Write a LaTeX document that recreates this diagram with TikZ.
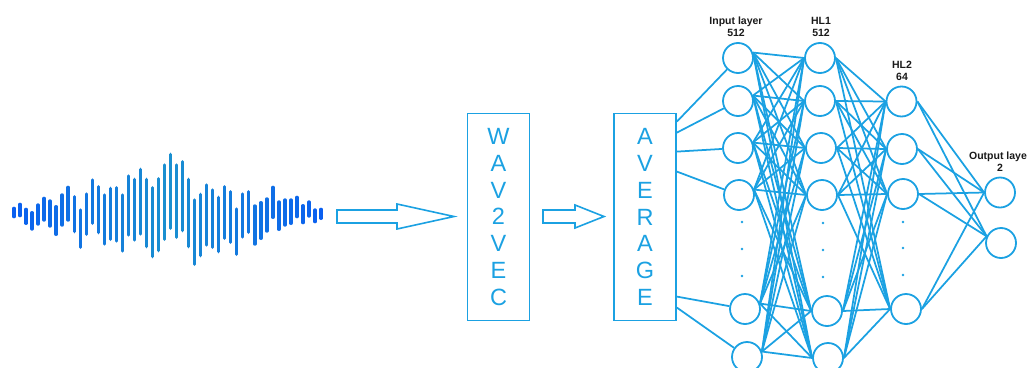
\documentclass[tikz,border=0pt]{standalone}
\usepackage{fontspec}
\setmainfont{Liberation Sans}
\usetikzlibrary{calc}
\definecolor{netblue}{HTML}{1BA1E2}
\definecolor{waveedge}{HTML}{0A5FF0}
\definecolor{wavemid}{HTML}{1A8FD0}
\definecolor{labelgray}{HTML}{1A1A1A}

\begin{document}
\begin{tikzpicture}[x=1pt,y=-1pt,
  neuron/.style={circle,draw=netblue,line width=1.8pt,minimum size=30pt,inner sep=0pt},
  link/.style={draw=netblue,line width=1.75pt},
  stage/.style={draw=netblue,line width=1.8pt,minimum width=62pt,minimum height=207pt,
    inner sep=0pt,align=center,text=netblue,font=\fontsize{23.5}{26.8}\selectfont},
  layerlabel/.style={align=center,font=\bfseries\fontsize{10.5}{12}\selectfont,text=labelgray},
  hollowarrow/.style={draw=netblue,line width=1.6pt,line join=miter,fill=white},
  ndot/.style={circle,fill=netblue,inner sep=0pt,minimum size=2.6pt}]
\useasboundingbox (0,0) rectangle (1027,367);

% audio waveform: index / top / bottom of each bar
\foreach \i/\yt/\yb in {
  1/206.7/218.3, 2/202.7/217.3, 3/207.7/225, 4/211/230.7, 5/203.3/225.7,
  6/196.7/221.7, 7/199.3/227.7, 8/205/236, 9/193.3/226.7, 10/185.7/221.7,
  11/195/233.3, 12/208.3/249, 13/192.3/236, 14/178.3/225, 15/185/234.3,
  16/193.3/245.7, 17/186.7/241, 18/186/242.7, 19/193.3/252.7, 20/174.3/236.7,
  21/177.7/241.7, 22/167.7/235.7, 23/177.7/248.3, 24/186/258.3, 25/177/252.3,
  26/163.3/241, 27/152.7/230, 28/163.3/239, 29/160/232.3, 30/177.7/248.3,
  31/198.3/266, 32/192.7/257.3, 33/183.3/246.7, 34/188.3/249, 35/195.7/253.3,
  36/185/240, 37/190/244, 38/207.3/256, 39/192.3/238.7, 40/190/234,
  41/204.3/245.7, 42/201/240, 43/197.3/232.7, 44/185.7/219, 45/200.3/231,
  46/198.3/226.7, 47/198.3/225, 48/195.7/218.3, 49/204/224.3, 50/200.3/217.7,
  51/208.3/223.3, 52/207.7/220} {
  \pgfmathsetmacro\xx{14+6.02*(\i-1)}
  \pgfmathtruncatemacro\mixv{100*abs(\i-26.5)/25.5}
  \colorlet{barcol}{waveedge!\mixv!wavemid}
  \draw[barcol,line width=3.4pt,line cap=round] (\xx,\yt+1.7) -- (\xx,\yb-1.7);
}

% processing stages
\node[stage] (wav) at (498.5,217) {W\\A\\V\\2\\V\\E\\C};
\node[stage] (avg) at (645,217) {A\\V\\E\\R\\A\\G\\E};

% hollow block arrows
\draw[hollowarrow] (337,210) -- (397,210) -- (397,204) -- (454,216.5)
  -- (397,229) -- (397,223) -- (337,223) -- cycle;
\draw[hollowarrow] (543,210) -- (575,210) -- (575,205) -- (604,216.5)
  -- (575,228) -- (575,223) -- (543,223) -- cycle;

% input layer
\node[neuron] (i1) at (738,58) {};
\node[neuron] (i2) at (738,101) {};
\node[neuron] (i3) at (738,148) {};
\node[neuron] (i4) at (739,195) {};
\node[neuron] (i5) at (745,309) {};
\node[neuron] (i6) at (747,357) {};
% hidden layer 1
\node[neuron] (h1) at (820,58) {};
\node[neuron] (h2) at (820,101) {};
\node[neuron] (h3) at (821,148) {};
\node[neuron] (h4) at (822,195) {};
\node[neuron] (h5) at (827,311) {};
\node[neuron] (h6) at (828,358) {};
% hidden layer 2
\node[neuron] (g1) at (901.5,101.5) {};
\node[neuron] (g2) at (902,149) {};
\node[neuron] (g3) at (903,194) {};
\node[neuron] (g4) at (906,309) {};
% output layer
\node[neuron] (o1) at (1000,192.5) {};
\node[neuron] (o2) at (1001,243) {};

% ellipsis dots
\node[ndot] (di1) at (742,222) {};
\node[ndot] (di2) at (742,249) {};
\node[ndot] (di3) at (742,276) {};
\node[ndot] (dh1) at (823,223) {};
\node[ndot] (dh2) at (823,250) {};
\node[ndot] (dh3) at (823,277) {};
\node[ndot] (dg1) at (903,222) {};
\node[ndot] (dg2) at (903,248) {};
\node[ndot] (dg3) at (903,275) {};

% layer captions
\node[layerlabel] (lin) at (736,27) {Input layer\\512};
\node[layerlabel] (lh1) at (821,27) {HL1\\512};
\node[layerlabel] (lh2) at (902,71) {HL2\\64};
\node[layerlabel] (lout) at (1000,162) {Output layer\\2};

% feeds from the averaged vector into the input layer
\coordinate (e1) at ($(avg.north east)+(0,9)$);
\coordinate (e2) at ($(avg.north east)+(0,20)$);
\coordinate (e3) at ($(avg.north east)+(0,39)$);
\coordinate (e4) at ($(avg.north east)+(0,59)$);
\coordinate (e5) at ($(avg.north east)+(0,184)$);
\coordinate (e6) at ($(avg.north east)+(0,195)$);
\foreach \k in {1,...,6} \draw[link] (e\k) -- (i\k);

% fully connected layers
\foreach \a in {1,...,6}
  \foreach \b in {1,...,6}
    \draw[link] (i\a.20) -- (h\b.west);
\foreach \a in {1,...,6}
  \foreach \b in {1,...,4}
    \draw[link] (h\a.east) -- (g\b.west);
\foreach \a in {1,...,4} {
  \draw[link] (g\a.east) -- (o1.west);
  \draw[link] (g\a.east) -- (o2.155);
}
\end{tikzpicture}
\end{document}
